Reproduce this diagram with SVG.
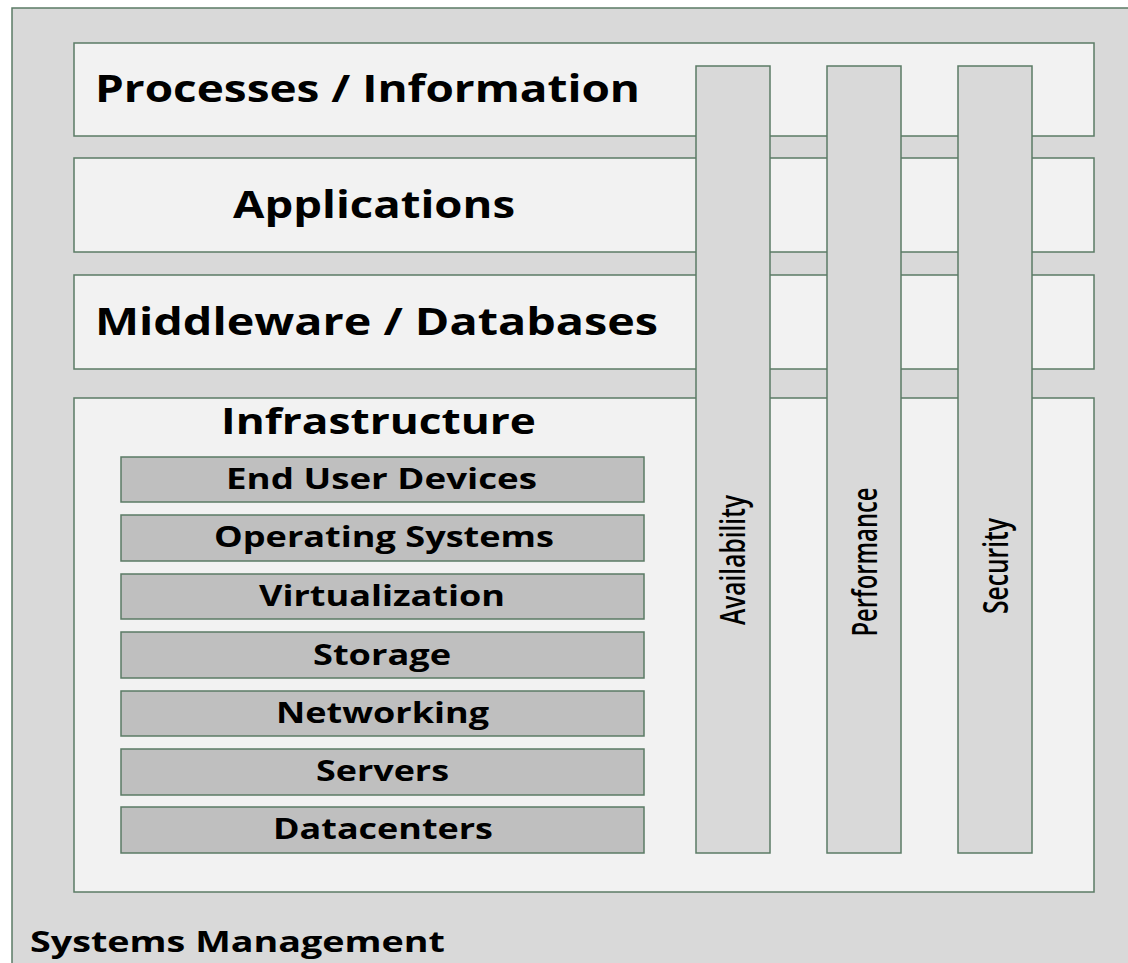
<svg xmlns="http://www.w3.org/2000/svg" width="1128" height="963" viewBox="0 0 1128 963">
<style>
.frame{fill:#d9d9d9;stroke:#5b7b65;stroke-width:1.5}
.layer{fill:#f2f2f2;stroke:#5b7b65;stroke-width:1.5}
.bar{fill:#d9d9d9;stroke:#5b7b65;stroke-width:1.5}
.item{fill:#bfbfbf;stroke:#5b7b65;stroke-width:1.5}
.t{font-family:"Open Sans","Liberation Sans",sans-serif;font-weight:bold;fill:#000}
.big{font-size:37px}
.mid{font-size:35px}
.sm{font-size:28px}
.v{font-family:"Open Sans","Liberation Sans",sans-serif;font-size:34px;font-weight:600;fill:#000;text-anchor:middle}
</style>
<rect width="1128" height="963" fill="#ffffff"/>
<g id="systems-management">
<rect class="frame" x="12" y="8" width="1130" height="970"/>
<text class="t" x="30" y="952" font-size="29" textLength="415" lengthAdjust="spacingAndGlyphs">Systems Management</text>
</g>
<g id="processes">
<rect class="layer" x="74" y="43" width="1020" height="93"/>
<text class="t big" x="95" y="102" textLength="545" lengthAdjust="spacingAndGlyphs">Processes / Information</text>
</g>
<g id="applications">
<rect class="layer" x="74" y="158" width="1020" height="94"/>
<text class="t big" x="233" y="218" textLength="282" lengthAdjust="spacingAndGlyphs">Applications</text>
</g>
<g id="middleware">
<rect class="layer" x="74" y="275" width="1020" height="94"/>
<text class="t big" x="95" y="335" textLength="563" lengthAdjust="spacingAndGlyphs">Middleware / Databases</text>
</g>
<g id="infrastructure">
<rect class="layer" x="74" y="398" width="1020" height="494"/>
<text class="t mid" x="221" y="434" textLength="315" lengthAdjust="spacingAndGlyphs">Infrastructure</text>
</g>
<g id="end-user-devices">
<rect class="item" x="121" y="457" width="523" height="45"/>
<text class="t sm" x="226" y="489" textLength="311" lengthAdjust="spacingAndGlyphs">End User Devices</text>
</g>
<g id="operating-systems">
<rect class="item" x="121" y="515" width="523" height="46"/>
<text class="t sm" x="214" y="547" textLength="340" lengthAdjust="spacingAndGlyphs">Operating Systems</text>
</g>
<g id="virtualization">
<rect class="item" x="121" y="574" width="523" height="45"/>
<text class="t sm" x="259" y="606" textLength="246" lengthAdjust="spacingAndGlyphs">Virtualization</text>
</g>
<g id="storage">
<rect class="item" x="121" y="632" width="523" height="46"/>
<text class="t sm" x="313" y="665" textLength="138" lengthAdjust="spacingAndGlyphs">Storage</text>
</g>
<g id="networking">
<rect class="item" x="121" y="691" width="523" height="45"/>
<text class="t sm" x="276" y="723" textLength="213" lengthAdjust="spacingAndGlyphs">Networking</text>
</g>
<g id="servers">
<rect class="item" x="121" y="749" width="523" height="46"/>
<text class="t sm" x="316" y="781" textLength="133" lengthAdjust="spacingAndGlyphs">Servers</text>
</g>
<g id="datacenters">
<rect class="item" x="121" y="807" width="523" height="46"/>
<text class="t sm" x="273" y="839" textLength="220" lengthAdjust="spacingAndGlyphs">Datacenters</text>
</g>
<g id="availability">
<rect class="bar" x="696" y="66" width="74" height="787"/>
<text class="v" transform="translate(745,560) rotate(-90)" textLength="130" lengthAdjust="spacingAndGlyphs">Availability</text>
</g>
<g id="performance">
<rect class="bar" x="827" y="66" width="74" height="787"/>
<text class="v" transform="translate(877,562) rotate(-90)" textLength="149" lengthAdjust="spacingAndGlyphs">Performance</text>
</g>
<g id="security">
<rect class="bar" x="958" y="66" width="74" height="787"/>
<text class="v" transform="translate(1008,566) rotate(-90)" textLength="96" lengthAdjust="spacingAndGlyphs">Security</text>
</g>
<g id="connectors"></g>
</svg>
